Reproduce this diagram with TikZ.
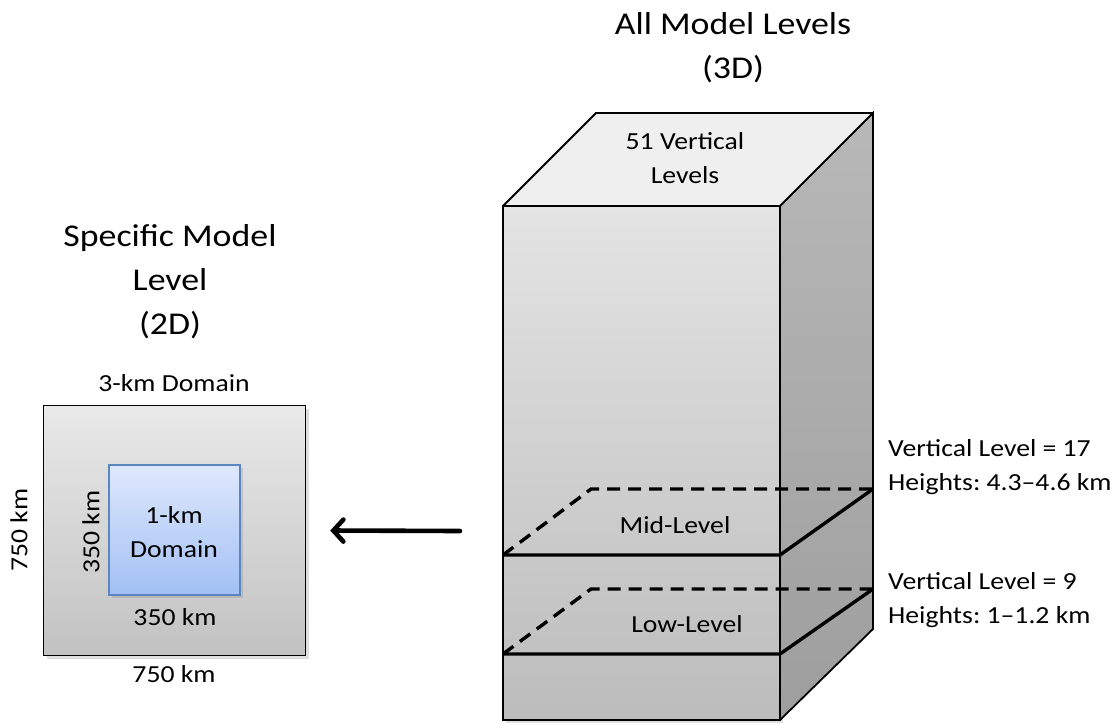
\documentclass[tikz,border=0pt]{standalone}
\usepackage{fontspec}
\setmainfont{Carlito}[FakeStretch=1.13]
\usetikzlibrary{shadows,arrows.meta}
\definecolor{frontTop}{HTML}{E4E4E4}
\definecolor{frontBot}{HTML}{BCBCBC}
\definecolor{sideTop}{HTML}{B8B8B8}
\definecolor{sideBot}{HTML}{9E9E9E}
\definecolor{topFace}{HTML}{EFEFEF}
\definecolor{sqTop}{HTML}{E9E9E9}
\definecolor{sqBot}{HTML}{C2C2C2}
\definecolor{blueTop}{HTML}{DEE8FC}
\definecolor{blueBot}{HTML}{A2C0F4}
\definecolor{blueEdge}{HTML}{5A86C2}
\frenchspacing
\tikzset{
  title/.style={font=\fontsize{31.7}{44}\selectfont, align=center, inner sep=0pt},
  label/.style={font=\fontsize{24.5}{33.5}\selectfont, align=center, inner sep=0pt},
  edge/.style={draw=black, line width=1.8pt},
  levelline/.style={line width=3.4pt, line cap=butt},
  hidden/.style={levelline, dash pattern=on 13pt off 8pt},
  soft/.style={drop shadow={opacity=0.25, shadow xshift=3pt, shadow yshift=-3pt}},
}
\begin{document}
\begin{tikzpicture}[x=1pt, y=-1pt]
\useasboundingbox (0,0) rectangle (1117,724);

% ---- column of all model levels ----
\shade[top color=frontTop, bottom color=frontBot, soft]
  (503,206) rectangle (780,720);
\shade[top color=sideTop, bottom color=sideBot]
  (780,206) -- (873,113) -- (873,629) -- (780,720) -- cycle;
\fill[topFace] (503,206) -- (596,113) -- (873,113) -- (780,206) -- cycle;

% level planes: hidden edges first, then the visible ones
\draw[hidden] (503,555) -- (591,489) -- (873,489);
\draw[hidden] (503,654) -- (591,589) -- (873,589);
\draw[levelline] (503,555) -- (780,555) -- (873,489);
\draw[levelline] (503,654) -- (780,654) -- (873,589);

% outlines of the column
\draw[edge, line join=miter] (503,206) rectangle (780,720);
\draw[edge, line join=miter] (780,720) -- (873,629) -- (873,113) -- (780,206);
\draw[edge, line join=miter] (503,206) -- (596,113) -- (873,113);

\node[title] (alltitle) at (733,48) {All Model Levels\\(3D)};
\node[label] (vlevels) at (685,158) {51 Vertical\\Levels};
\node[label] (midlbl) at (675,525) {Mid-Level};
\node[label] (lowlbl) at (687,624) {Low-Level};
\node[label, align=left, anchor=west] (midinfo) at (888,467)
  {Vertical Level = 17\\Heights: 4.3–4.6 km};
\node[label, align=left, anchor=west] (lowinfo) at (888,600)
  {Vertical Level = 9\\Heights: 1–1.2 km};

% ---- single model level ----
\node[title] (spectitle) at (170,282) {Specific Model\\Level\\(2D)};
\node[draw=black, line width=1.5pt, top color=sqTop, bottom color=sqBot,
      minimum width=262pt, minimum height=250pt, inner sep=0pt, soft]
  (outer) at (174.5,530.5) {};
\node[draw=blueEdge, line width=1.3pt, top color=blueTop, bottom color=blueBot,
      minimum width=131pt, minimum height=130pt, inner sep=0pt, soft]
  (inner) at (174.5,530) {};
\node[label] (innerlbl) at (174,532) {1-km\\Domain};
\node[label] (outerlbl) at (174,383) {3-km Domain};
\node[label] (outerbot) at (174,674) {750 km};
\node[label, rotate=90] (outerleft) at (19,530) {750 km};
\node[label] (innerbot) at (175,617) {350 km};
\node[label, rotate=90] (innerleft) at (91,532) {350 km};

% ---- arrow from the column to the level ----
\coordinate (arrowtail) at (460,531);
\draw[line width=4.6pt, line cap=round, soft,
      -{Straight Barb[length=10pt, width=22pt, line cap=round]}]
  (arrowtail) -- ([xshift=24pt]outer.east);
\end{tikzpicture}
\end{document}
